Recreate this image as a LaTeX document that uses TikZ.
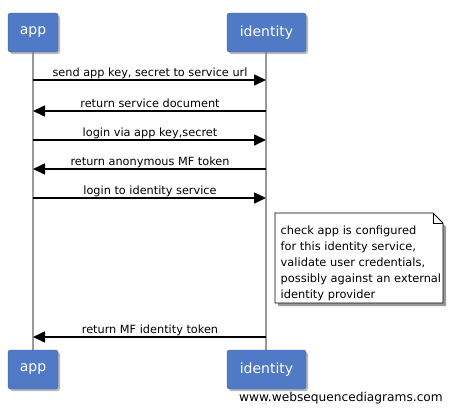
\documentclass[tikz,border=0pt]{standalone}
\usepackage{fontspec}
\setmainfont{DejaVu Sans}
\usetikzlibrary{arrows.meta,shadows}
\definecolor{boxblue}{HTML}{5079C6}
\definecolor{lifegray}{HTML}{9A9A9A}
\tikzset{
  actor/.style={draw=boxblue!80!black, fill=boxblue, rounded corners=2.5pt, minimum width=50pt, minimum height=39pt,
    text=white, font=\fontsize{14}{16}\selectfont, inner sep=0pt,
    drop shadow={shadow xshift=2pt, shadow yshift=-2pt, fill=black!45, opacity=0.6}},
  actorwide/.style={actor, minimum width=79pt},
  lifeline/.style={draw=lifegray, line width=2pt},
  msg/.style={draw=black, line width=1.6pt, -{Triangle[length=12pt,width=11pt]}},
  msglabel/.style={font=\fontsize{11.3}{13}\selectfont, anchor=base, inner sep=0pt},
  notebox/.style={font=\fontsize{11.4}{16}\selectfont, align=left, anchor=north west, inner sep=0pt}
}
\begin{document}
\begin{tikzpicture}[x=1pt,y=-1pt]
\useasboundingbox (0,0) rectangle (454,413);
% lifelines
\draw[lifeline] (33,52) -- (33,350);
\draw[lifeline] (266,52) -- (266,350);
% actors
\node[actor] (appT) at (33,32.5) {app};
\node[actorwide] (idT) at (266.5,32.5) {identity};
\node[actor] (appB) at (33,369.5) {app};
\node[actorwide] (idB) at (266.5,369.5) {identity};
% lifeline anchor coordinates
\coordinate (a1) at (33,80);   \coordinate (i1) at (266,80);
\coordinate (a2) at (33,111);  \coordinate (i2) at (266,111);
\coordinate (a3) at (33,140);  \coordinate (i3) at (266,140);
\coordinate (a4) at (33,169);  \coordinate (i4) at (266,169);
\coordinate (a5) at (33,198);  \coordinate (i5) at (266,198);
\coordinate (a6) at (33,337);  \coordinate (i6) at (266,337);
% messages
\draw[msg] (a1) -- (i1);
\node[msglabel] (l1) at (150,76) {send app key, secret to service url};
\draw[msg] (i2) -- (a2);
\node[msglabel] (l2) at (150,107) {return service document};
\draw[msg] (a3) -- (i3);
\node[msglabel] (l3) at (150,136) {login via app key,secret};
\draw[msg] (i4) -- (a4);
\node[msglabel] (l4) at (150,165) {return anonymous MF token};
\draw[msg] (a5) -- (i5);
\node[msglabel] (l5) at (150,194) {login to identity service};
\draw[msg] (i6) -- (a6);
\node[msglabel] (l6) at (150,333) {return MF identity token};
% note
\fill[black!40] (278,216) -- (435,216) -- (446,227) -- (446,306) -- (278,306) -- cycle;
\draw[fill=white, line width=0.8pt] (275,213) -- (433,213) -- (443,223) -- (443,303) -- (275,303) -- cycle;
\draw[line width=0.8pt] (433,213) -- (433,223) -- (443,223);
\node[notebox] (note) at (280.5,225.5) {check app is configured\\for this identity service,\\validate user credentials,\\possibly against an external\\identity provider};
% watermark
\node[font=\fontsize{12.2}{14}\selectfont, anchor=east, inner sep=0pt] (wm) at (443,398) {www.websequencediagrams.com};
\end{tikzpicture}
\end{document}
